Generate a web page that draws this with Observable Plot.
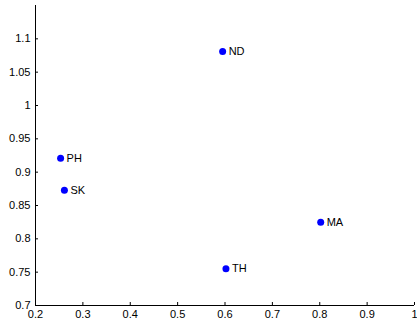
<!DOCTYPE html>
<html><head><meta charset="utf-8">
<script src="https://cdn.jsdelivr.net/npm/d3@7"></script>
<script src="https://cdn.jsdelivr.net/npm/@observablehq/plot@0.6"></script>
<style>body{margin:0;background:#fff}</style>
</head><body><div id="chart"></div>
<script>
const labels = ["ND", "PH", "SK", "MA", "TH"];
const xValues = [0.595, 0.253, 0.261, 0.802, 0.602];
const yValues = [1.081, 0.921, 0.873, 0.825, 0.755];
const xTicks = [0.2, 0.3, 0.4, 0.5, 0.6, 0.7, 0.8, 0.9, 1];
const yTicks = [0.7, 0.75, 0.8, 0.85, 0.9, 0.95, 1, 1.05, 1.1];

const data = labels.map((l, i) => ({label: l, x: xValues[i], y: yValues[i]}));
const fmt = d => String(+d.toFixed(2));

const chart = Plot.plot({
  width: 417, height: 324,
  marginLeft: 35, marginRight: 3, marginTop: 5, marginBottom: 19,
  style: {fontFamily: "'Liberation Sans', Arial, sans-serif", fontSize: "11px", color: "#000", background: "#fff"},
  x: {domain: [0.2, 1]},
  y: {domain: [0.7, 1.15]},
  marks: [
    Plot.axisX({ticks: xTicks, tickFormat: fmt, tickSize: -3, tickPadding: 8, label: null, stroke: "#000"}),
    Plot.axisY({ticks: yTicks, tickFormat: fmt, tickSize: -3, tickPadding: 8, label: null, stroke: "#000"}),
    Plot.ruleX([0.2], {stroke: "#000"}),
    Plot.ruleY([0.7], {stroke: "#000"}),
    Plot.dot(data, {x: "x", y: "y", r: 3.5, fill: "#0000ff", stroke: null}),
    Plot.text(data, {x: "x", y: "y", text: "label", dx: 6, textAnchor: "start", fill: "#000", fontSize: 11})
  ]
});
document.getElementById("chart").appendChild(chart);
</script>
</body></html>
